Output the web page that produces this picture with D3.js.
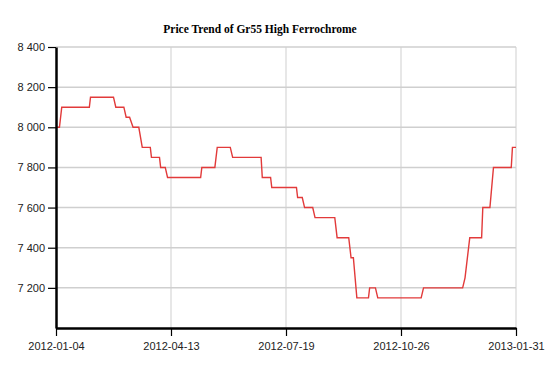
<!DOCTYPE html>
<html><head><meta charset="utf-8">
<script src="https://cdn.jsdelivr.net/npm/d3@7"></script>
<style>body{margin:0;background:#fff}</style>
</head><body><svg id="c" width="556" height="368"></svg>
<script>
const title = "Price Trend of Gr55 High Ferrochrome";
const dates = ["2012-01-04","2012-01-07","2012-01-09","2012-02-02","2012-02-03","2012-02-23","2012-02-25","2012-03-03","2012-03-05","2012-03-08","2012-03-11","2012-03-16","2012-03-19","2012-03-26","2012-03-27","2012-04-03","2012-04-04","2012-04-08","2012-04-10","2012-05-08","2012-05-09","2012-05-20","2012-05-22","2012-06-02","2012-06-04","2012-06-28","2012-06-29","2012-07-06","2012-07-07","2012-07-28","2012-07-29","2012-08-02","2012-08-04","2012-08-11","2012-08-13","2012-08-30","2012-09-01","2012-09-11","2012-09-13","2012-09-15","2012-09-18","2012-09-28","2012-09-29","2012-10-04","2012-10-06","2012-11-12","2012-11-14","2012-12-17","2012-12-19","2012-12-23","2013-01-02","2013-01-03","2013-01-09","2013-01-12","2013-01-27","2013-01-28","2013-01-31"];
const prices = [8000,8000,8100,8100,8150,8150,8100,8100,8050,8050,8000,8000,7900,7900,7850,7850,7800,7800,7750,7750,7800,7800,7900,7900,7850,7850,7750,7750,7700,7700,7650,7650,7600,7600,7550,7550,7450,7450,7350,7350,7150,7150,7200,7200,7150,7150,7200,7200,7250,7450,7450,7600,7600,7800,7800,7900,7900];
const xTickDates = ["2012-01-04","2012-04-13","2012-07-19","2012-10-26","2013-01-31"];
const yTicks = [7200,7400,7600,7800,8000,8200,8400];
const yDomain = [7000,8400];

const parse = d3.utcParse("%Y-%m-%d");
const data = dates.map((d,i)=>({date:parse(d), v:prices[i]}));
const xt = xTickDates.map(parse);

const L=56, R=516, T=47, B=328;
const x = d3.scaleUtc().domain(xt).range(xt.map((d,i)=>L + i*(R-L)/(xt.length-1)));
const y = d3.scaleLinear().domain(yDomain).range([B,T]);

const svg = d3.select("#c");
const fmt = d3.formatLocale({decimal:".",thousands:" ",grouping:[3],currency:["",""]}).format(",d");

// grid
svg.append("g").selectAll("line").data(yTicks).join("line")
  .attr("x1",L).attr("x2",R).attr("y1",d=>y(d)).attr("y2",d=>y(d))
  .attr("stroke","#cfcfcf").attr("stroke-width",1.5);
svg.append("g").selectAll("line").data(xt.slice(1)).join("line")
  .attr("x1",d=>x(d)).attr("x2",d=>x(d)).attr("y1",T).attr("y2",B)
  .attr("stroke","#cfcfcf").attr("stroke-width",1);

// line
svg.append("path").datum(data)
  .attr("d", d3.line().x(d=>x(d.date)).y(d=>y(d.v)))
  .attr("fill","none").attr("stroke","#e23a3a").attr("stroke-width",1.4);

// axes
const ya = svg.append("g").attr("transform",`translate(${L},0)`)
  .call(d3.axisLeft(y).tickValues(yTicks).tickFormat(fmt).tickSize(8).tickSizeOuter(0).tickPadding(3));
const xa = svg.append("g").attr("transform",`translate(0,${B})`)
  .call(d3.axisBottom(x).tickValues(xt).tickFormat(d3.utcFormat("%Y-%m-%d")).tickSize(8).tickSizeOuter(0).tickPadding(6));
[ya,xa].forEach(g=>{
  g.select(".domain").attr("stroke","#000").attr("stroke-width",2.5);
  g.selectAll(".tick line").attr("stroke","#000").attr("stroke-width",1.2);
  g.selectAll("text").attr("font-family","Liberation Sans, Arial, sans-serif").attr("font-size",11).attr("fill","#222");
});

svg.append("text").attr("x",260).attr("y",33).attr("text-anchor","middle")
  .attr("font-family","Liberation Serif, Times New Roman, serif").attr("font-weight","bold")
  .attr("font-size",11.5).attr("fill","#000").text(title);
</script></body></html>
